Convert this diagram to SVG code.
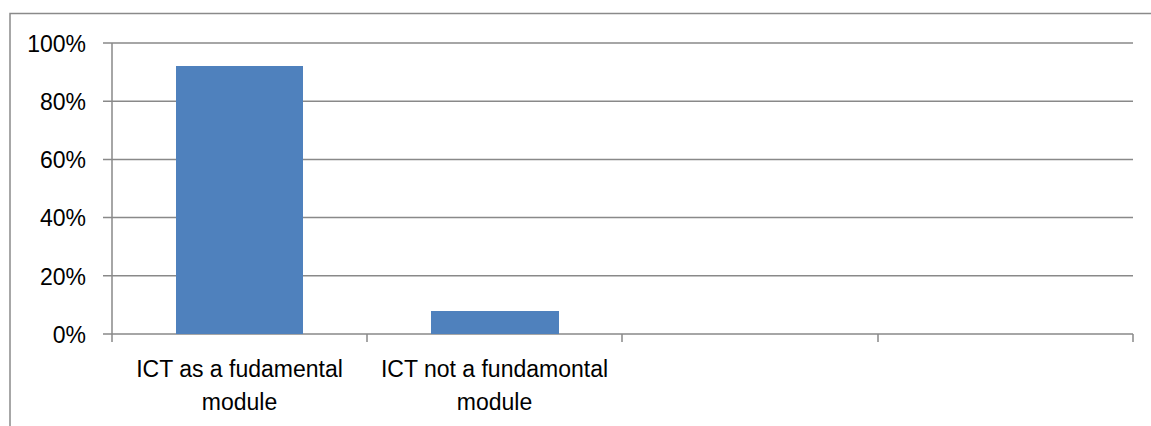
<svg xmlns="http://www.w3.org/2000/svg" width="1151" height="426" viewBox="0 0 1151 426">
<style>
.frame{fill:#fff;stroke:#8a8a8a;stroke-width:1.5}
.grid{stroke:#898989;stroke-width:1.5;fill:none}
.bar{fill:#4f81bd}
.t{font-family:"Liberation Sans",Arial,sans-serif;font-size:23px;fill:#000}
.ya{text-anchor:end}
.ca{text-anchor:middle}
</style>
<rect class="frame" x="10" y="13.5" width="1150" height="420"/>
<g id="gridlines">
<path class="grid" d="M103 43H1133M103 101.2H1133M103 159.4H1133M103 217.6H1133M103 275.8H1133M103 334H1133"/>
<path class="grid" d="M112 43V342M367 334V342M622 334V342M878 334V342M1133 334V342"/>
</g>
<g id="bars">
<rect id="bar1" class="bar" x="176" y="66" width="127" height="268"/>
<rect id="bar2" class="bar" x="431" y="311" width="128" height="23"/>
</g>
<g id="yaxis">
<text class="t ya" x="86" y="52">100%</text>
<text class="t ya" x="86" y="110">80%</text>
<text class="t ya" x="86" y="168">60%</text>
<text class="t ya" x="86" y="226">40%</text>
<text class="t ya" x="86" y="285">20%</text>
<text class="t ya" x="86" y="343">0%</text>
</g>
<g id="xaxis">
<text class="t ca" x="239.5" y="377">ICT as a fudamental</text>
<text class="t ca" x="239.5" y="410">module</text>
<text class="t ca" x="494.5" y="377">ICT not a fundamontal</text>
<text class="t ca" x="494.5" y="410">module</text>
</g>
</svg>
